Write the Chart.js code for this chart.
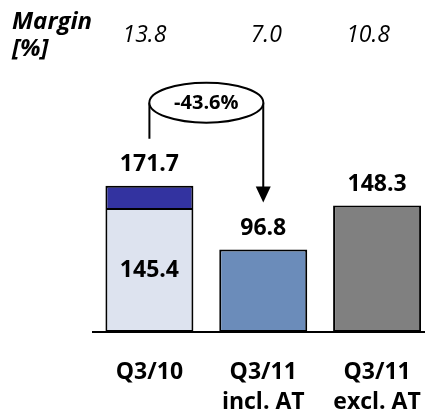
<!DOCTYPE html>
<html>
<head>
<meta charset="utf-8">
<script src="https://cdn.jsdelivr.net/npm/chart.js@4.4.1/dist/chart.umd.min.js"></script>
<style>
  html, body { margin: 0; padding: 0; background: #fff; overflow: hidden; }
  body { width: 425px; height: 412px; }
  #wrap { position: relative; width: 440px; height: 412px; }
</style>
</head>
<body>
<div id="wrap"><canvas id="c"></canvas></div>
<script>
// Quarterly values (EUR m) and margins
const categories = [['Q3/10'], ['Q3/11', 'incl. AT'], ['Q3/11', 'excl. AT']];
const totals = [171.7, 96.8, 148.3];
const baseValues = [145.4, 96.8, 148.3];
const margins = ['13.8', '7.0', '10.8'];
const changeLabel = '-43.6%';

const topValues = totals.map((t, i) => (t - baseValues[i] > 0.001 ? +(t - baseValues[i]).toFixed(1) : null));

const FONT = "'Open Sans', Lato, sans-serif";

const overlay = {
  id: 'overlay',
  afterDatasetsDraw(chart) {
    const ctx = chart.ctx;
    const x = chart.scales.x, y = chart.scales.y;
    const cx = categories.map((_, i) => x.getPixelForValue(i));
    ctx.save();
    ctx.fillStyle = '#000';
    ctx.textAlign = 'center';
    ctx.textBaseline = 'middle';

    // values above each bar and inside the base segment of the first bar
    ctx.font = "bold 23px " + FONT;
    totals.forEach((v, i) => {
      ctx.fillText(v.toFixed(1), cx[i], y.getPixelForValue(v) - 21);
    });
    ctx.fillText(baseValues[0].toFixed(1), cx[0], y.getPixelForValue(baseValues[0] / 2));

    // margin row
    ctx.textAlign = 'left';
    ctx.textBaseline = 'alphabetic';
    ctx.font = "italic bold 24px " + FONT;
    ctx.fillText('Margin', 12, 29);
    ctx.fillText('[%]', 12, 56);
    ctx.textAlign = 'center';
    ctx.font = "italic 23px " + FONT;
    const shift = [-5, 3, -9];
    margins.forEach((m, i) => ctx.fillText(m, cx[i] + shift[i], 42));

    // change bracket: from bar 1 up to the oval, then down to bar 2
    const yTop1 = y.getPixelForValue(totals[0]);
    const yTop2 = y.getPixelForValue(totals[1]);
    const ey = yTop1 - 83;
    const ex = (cx[0] + cx[1]) / 2;
    ctx.strokeStyle = '#000';
    ctx.lineWidth = 2;
    ctx.beginPath();
    ctx.moveTo(cx[0], yTop1 - 47);
    ctx.lineTo(cx[0], ey);
    ctx.moveTo(cx[1], ey);
    ctx.lineTo(cx[1], yTop2 - 62);
    ctx.stroke();
    ctx.beginPath();
    ctx.moveTo(cx[1] - 7.5, yTop2 - 63);
    ctx.lineTo(cx[1] + 7.5, yTop2 - 63);
    ctx.lineTo(cx[1], yTop2 - 47);
    ctx.closePath();
    ctx.fill();

    ctx.beginPath();
    ctx.ellipse(ex, ey, 57, 20, 0, 0, Math.PI * 2);
    ctx.fillStyle = '#fff';
    ctx.fill();
    ctx.lineWidth = 2;
    ctx.stroke();
    ctx.fillStyle = '#000';
    ctx.font = "bold 20px " + FONT;
    ctx.textBaseline = 'middle';
    ctx.fillText(changeLabel, ex, ey + 1);
    ctx.restore();
  }
};

new Chart(document.getElementById('c'), {
  type: 'bar',
  data: {
    labels: categories,
    datasets: [
      {
        data: baseValues,
        backgroundColor: ['#dde3ef', '#6b8cba', '#808080'],
        borderColor: '#000',
        borderWidth: 2,
        borderSkipped: false
      },
      {
        data: topValues,
        backgroundColor: '#3333a0',
        borderColor: '#000',
        borderWidth: 2,
        borderSkipped: 'bottom'
      }
    ]
  },
  options: {
    responsive: true,
    maintainAspectRatio: false,
    devicePixelRatio: 1,
    animation: false,
    layout: { padding: { left: 92.5, right: 6, top: 20, bottom: 0 } },
    plugins: { legend: { display: false }, tooltip: { enabled: false } },
    datasets: { bar: { categoryPercentage: 1, barPercentage: 0.773 } },
    scales: {
      x: {
        stacked: true,
        grid: { display: false, drawTicks: false },
        border: { display: true, color: '#000', width: 2 },
        afterFit(scale) {
          scale.height = 80;
          scale.paddingLeft = 0;
          scale.paddingRight = 0;
        },
        ticks: {
          color: '#000',
          padding: 26,
          font: { family: FONT, size: 23, weight: 'bold', lineHeight: 1.3 }
        }
      },
      y: {
        stacked: true,
        display: false,
        min: 0,
        max: 366
      }
    }
  },
  plugins: [overlay]
});
</script>
</body>
</html>
